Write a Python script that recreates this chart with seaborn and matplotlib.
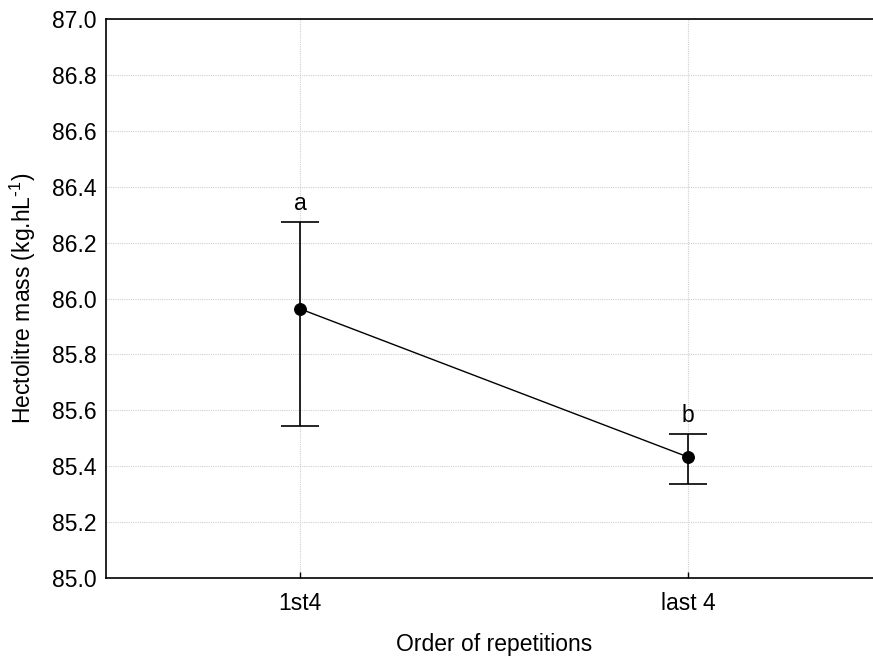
import matplotlib
matplotlib.use("Agg")
import matplotlib.pyplot as plt
import seaborn as sns
import pandas as pd

# Hectolitre mass by order of repetitions
categories = ["1st4", "last 4"]
means = [85.963, 85.433]
upper = [86.275, 85.515]
lower = [85.545, 85.335]
letters = ["a", "b"]
y_ticks = [85.0, 85.2, 85.4, 85.6, 85.8, 86.0, 86.2, 86.4, 86.6, 86.8, 87.0]

df = pd.DataFrame({"order": categories, "mass": means})

sns.set_style("white")
plt.rcParams["font.family"] = ["Liberation Sans", "DejaVu Sans"]
plt.rcParams.update({
    "text.color": "black",
    "axes.labelcolor": "black",
    "xtick.color": "black",
    "ytick.color": "black",
})

FS = 16.5
GRID = dict(color="#d0d0d0", linestyle=(0, (1, 1)), linewidth=0.8)

fig = plt.figure(figsize=(8.73, 6.58), dpi=100)
ax = fig.add_axes([106 / 873, 80 / 658, 776 / 873, 559 / 658])

sns.pointplot(data=df, x="order", y="mass", errorbar=None, color="black",
              markers="o", markersize=8.5, linewidth=1.0, ax=ax, zorder=3)

# dotted reference grid behind the data, on both axes
ax.set_axisbelow(True)
ax.yaxis.grid(True, **GRID)
ax.xaxis.grid(True, **GRID)

pos = list(range(len(categories)))
yerr = [[m - lo for m, lo in zip(means, lower)],
        [hi - m for m, hi in zip(means, upper)]]
ax.errorbar(pos, means, yerr=yerr, fmt="none", ecolor="black",
            elinewidth=1.2, capsize=14, capthick=1.2, zorder=2)

for x, hi, lab in zip(pos, upper, letters):
    ax.annotate(lab, (x, hi), xytext=(0, 5), textcoords="offset points",
                ha="center", va="bottom", fontsize=FS)

ax.set_xlim(-0.5, 1.5)
ax.set_ylim(85.0, 87.0)
ax.set_yticks(y_ticks)
ax.set_yticklabels([f"{v:.1f}" for v in y_ticks])
ax.tick_params(axis="y", length=0, pad=7, labelsize=FS)
ax.tick_params(axis="x", direction="in", length=4, width=1, pad=10, labelsize=FS,
               bottom=True)

ax.set_xlabel("Order of repetitions", fontsize=FS, labelpad=13)
ax.set_ylabel("Hectolitre mass (kg.hL$^{\\text{-}\\mathregular{1}}$)",
              fontsize=FS, labelpad=10)

for side in ["left", "bottom", "top", "right"]:
    ax.spines[side].set_visible(True)
    ax.spines[side].set_color("black")
    ax.spines[side].set_linewidth(1.2)

fig.savefig("out.png", dpi=100)
